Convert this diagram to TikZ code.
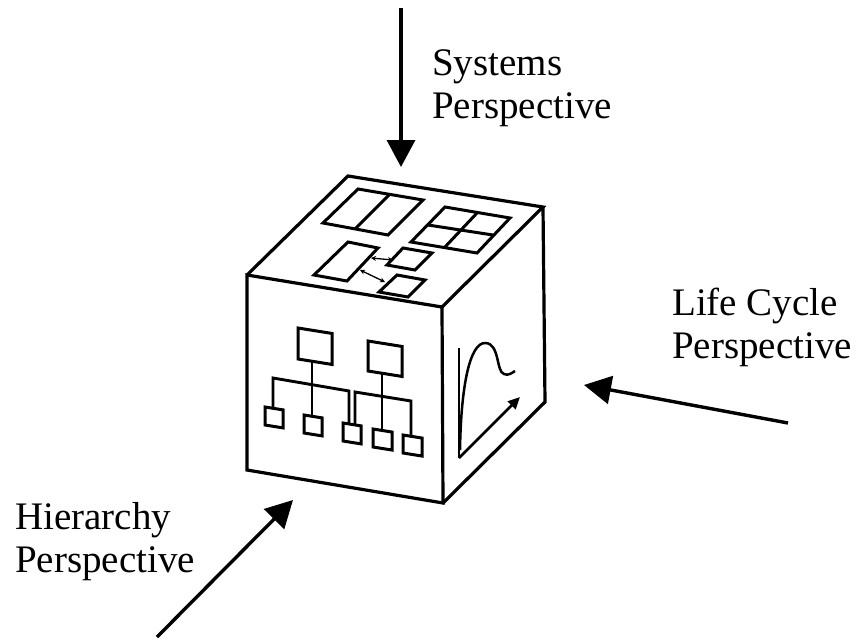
\documentclass[tikz,border=0pt]{standalone}
\usepackage{fontspec}
\setmainfont{Liberation Serif}
\usepackage{tikz}
\usetikzlibrary{arrows.meta, calc}
\tikzset{
  edge/.style={line width=3.2pt,line join=miter},
  panel/.style={line width=3pt},
  facebox/.style={line width=3pt},
  wire/.style={line width=2.9pt},
  viewarr/.style={-{Triangle[length=27pt,width=28pt]},line width=3.4pt},
  swaparr/.style={{Stealth[length=5pt,width=5pt]}-{Stealth[length=5pt,width=5pt]},line width=1.3pt},
  axisarr/.style={-{Triangle[length=12pt,width=11pt]},line width=2.6pt},
  curve/.style={line width=2.5pt},
  label/.style={anchor=base west,align=left,inner sep=0pt,font=\fontsize{39}{43}\selectfont}
}
%% sheared box on the front face
\newcommand{\orgbox}[4]{\draw[facebox] (#1,#2) -- ++(#3,{0.16*#3}) -- ++(0,#4) -- ++(-#3,{-0.16*#3}) -- cycle;}

\begin{document}
\begin{tikzpicture}[x=1pt,y=-1pt]
  \useasboundingbox (0,0) rectangle (857,640);

  %% cube corners
  \coordinate (ftl) at (247,275);
  \coordinate (ftr) at (442,307);
  \coordinate (fbr) at (443,503);
  \coordinate (fbl) at (247,470);
  \coordinate (btl) at (348,176);
  \coordinate (btr) at (543,207);
  \coordinate (bbr) at (545,402);

  \draw[edge] (ftl) -- (ftr) -- (fbr) -- (fbl) -- cycle;
  \draw[edge] (ftl) -- (btl) -- (btr) -- (ftr);
  \draw[edge] (btr) -- (bbr) -- (fbr);

  %% top face: systems
  \draw[panel] (323,223) -- (388,235) -- (423,200) -- (358,189) -- cycle;
  \draw[panel] (355,229) -- (390,194);
  \draw[panel] (411,242) -- (477,253) -- (510,218) -- (445,207) -- cycle;
  \draw[panel] (428,225) -- (493,235);
  \draw[panel] (445,247) -- (477,213);
  \draw[panel] (314,275) -- (347,281) -- (378,248) -- (348,242) -- cycle;
  \draw[panel] (387,265) -- (415,270) -- (432,253) -- (403,248) -- cycle;
  \draw[panel] (379,292) -- (408,297) -- (425,280) -- (397,275) -- cycle;
  \draw[swaparr] (371,258) -- (393,260);
  \draw[swaparr] (360,270) -- (385,282);

  %% front face: hierarchy
  \orgbox{298}{328}{34}{31}
  \orgbox{368}{341}{34}{30}
  \orgbox{265}{407}{18}{18}
  \orgbox{304}{415}{18}{18}
  \orgbox{343}{423}{18}{18}
  \orgbox{373}{429}{19}{18}
  \orgbox{403}{435}{19}{18}
  \draw[wire] (312,362) -- (312,416);
  \draw[wire] (273,408) -- (273,378) -- (349,391) -- (349,424);
  \draw[wire] (382,373) -- (382,431);
  \draw[wire] (355,424) -- (355,392) -- (411,401) -- (411,437);

  %% right face: life cycle
  \coordinate (ax0) at (459,458);
  \draw[curve] (459,348) -- (ax0);
  \draw[axisarr] (ax0) -- (520,397);
  \draw[curve] (460,450) .. controls (461,385) and (470,343) .. (485,343)
    .. controls (500,343) and (496,372) .. (504,374)
    .. controls (508,376) and (512,373) .. (515,371);

  %% perspectives
  \coordinate (sysTail) at (401,8);
  \coordinate (sysTip) at (401,167);
  \coordinate (lcTail) at (788,423);
  \coordinate (lcTip) at (584,385);
  \coordinate (hiTail) at (157,637);
  \coordinate (hiTip) at (293,500);
  \draw[viewarr] (sysTail) -- (sysTip);
  \draw[viewarr] (lcTail) -- (lcTip);
  \draw[viewarr] (hiTail) -- (hiTip);

  \node[label] (sysLabel) at (432,118) {Systems\\Perspective};
  \node[label] (lcLabel) at (672,358) {Life Cycle\\Perspective};
  \node[label] (hiLabel) at (15,572) {Hierarchy\\Perspective};
\end{tikzpicture}
\end{document}
